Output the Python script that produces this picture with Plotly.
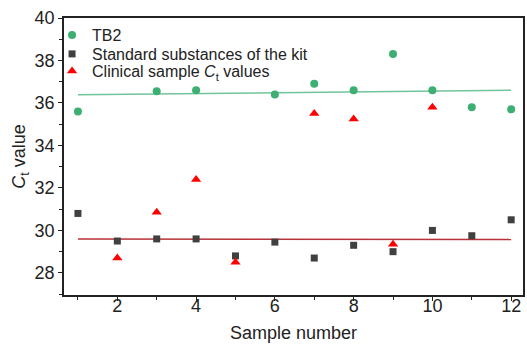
import numpy as np
import plotly.graph_objects as go

samples = list(range(1, 13))
tb2 = [35.6, None, 36.55, 36.6, None, 36.4, 36.9, 36.6, 38.3, 36.6, 35.8, 35.7]
standard = [30.8, 29.5, 29.6, 29.6, 28.8, 29.45, 28.7, 29.3, 29.0, 30.0, 29.75, 30.5]
clinical = [None, 28.7, 30.85, 32.4, 28.5, None, 35.5, 35.25, 29.35, 35.8, None, None]

def fit(xs, ys):
    pts = [(x, y) for x, y in zip(xs, ys) if y is not None]
    px = np.array([p[0] for p in pts], float)
    py = np.array([p[1] for p in pts], float)
    k, b = np.polyfit(px, py, 1)
    ends = np.array([min(xs), max(xs)], float)
    return ends, k * ends + b

font = "Liberation Sans, Arial, sans-serif"
ink = "#222222"
fig = go.Figure()

gx, gy = fit(samples, tb2)
sx, sy = fit(samples, standard)
fig.add_trace(go.Scatter(x=gx, y=gy, mode="lines", line=dict(color="#72c49a", width=1.5),
                         showlegend=False, hoverinfo="skip"))
fig.add_trace(go.Scatter(x=sx, y=sy, mode="lines", line=dict(color="#b8323a", width=1.5),
                         showlegend=False, hoverinfo="skip"))

fig.add_trace(go.Scatter(x=samples, y=tb2, mode="markers", name="TB2", legend="legend",
                         marker=dict(symbol="circle", size=8, color="#3daf72")))
fig.add_trace(go.Scatter(x=samples, y=standard, mode="markers", name="Standard substances of the kit",
                         legend="legend2",
                         marker=dict(symbol="square", size=7, color="#404040")))
fig.add_trace(go.Scatter(x=samples, y=clinical, mode="markers",
                         name="Clinical sample <i>C</i><sub>t</sub> values", legend="legend3",
                         marker=dict(symbol="triangle-up", size=9, color="#ff0000")))

axis_common = dict(showline=True, mirror=True, linecolor=ink, linewidth=1.5,
                   ticks="outside", ticklen=4, tickwidth=1.2, tickcolor=ink,
                   showgrid=False, zeroline=False,
                   tickfont=dict(family=font, size=18, color=ink))

fig.update_xaxes(range=[0.646, 12.30], tick0=0, dtick=2,
                 minor=dict(dtick=1, ticks="outside", ticklen=3, tickcolor=ink, tickwidth=1.2),
                 ticklabelstandoff=-10,
                 title=dict(text="Sample number", font=dict(family=font, size=18, color=ink),
                            standoff=11),
                 **axis_common)
fig.update_yaxes(range=[26.96, 40], tick0=0, dtick=2,
                 minor=dict(dtick=1, ticks="outside", ticklen=3, tickcolor=ink, tickwidth=1.2),
                 title=dict(text="<i>C</i><sub>t</sub> value", font=dict(family=font, size=18, color=ink),
                            standoff=4),
                 **axis_common)

leg = dict(xanchor="left", yanchor="middle", bgcolor="rgba(0,0,0,0)", itemwidth=30,
           font=dict(family=font, size=16, color=ink))
x_leg = -12 / 461
fig.update_layout(
    width=527, height=344,
    margin=dict(l=64, r=2, t=18, b=49),
    plot_bgcolor="white", paper_bgcolor="white",
    legend=dict(x=x_leg, y=1 - 17 / 277, **leg),
    legend2=dict(x=x_leg, y=1 - 36 / 277, **leg),
    legend3=dict(x=x_leg, y=1 - 53 / 277, **leg),
    showlegend=True,
)

fig.write_html("out.html", config={"displayModeBar": False},
               post_script="document.body.style.margin='0px';")
